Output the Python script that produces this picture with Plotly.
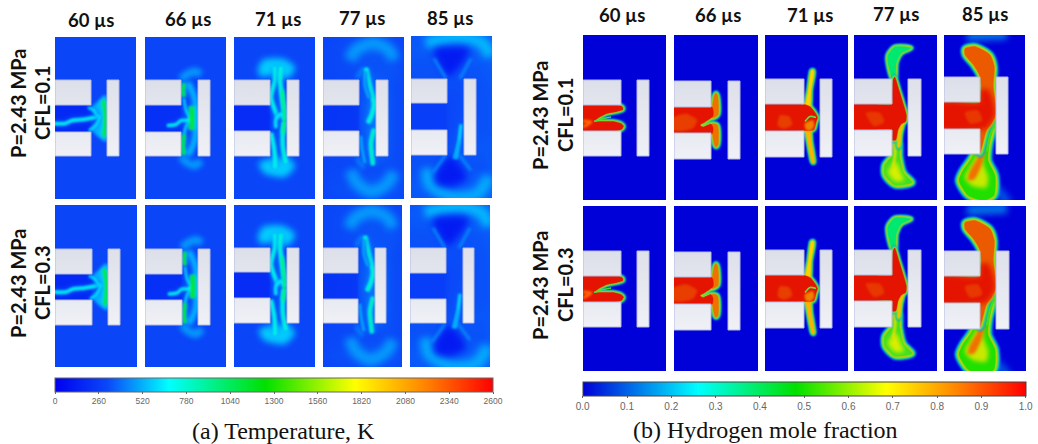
import plotly.graph_objects as go
from plotly.colors import sample_colorscale

W, H = 1038, 444
TIMES = ["60 µs", "66 µs", "71 µs", "77 µs", "85 µs"]
T_TICKS = [0, 260, 520, 780, 1040, 1300, 1560, 1820, 2080, 2340, 2600]
H_TICKS = [0.0, 0.1, 0.2, 0.3, 0.4, 0.5, 0.6, 0.7, 0.8, 0.9, 1.0]
H_TICKTEXT = ["0.0", "0.1", "0.2", "0.3", "0.4", "0.5", "0.6", "0.7", "0.8", "0.9", "1.0"]

# panel geometry in the picture: x0, x1, y0, y1, block end, upper0, upper1, lower0, lower1, right0, right1
T_TOP = [(55,136,37,199,91,80,105,132,156,107,119),(145,226,37,199,181,80,105,132,156,198,210),
         (234,315,37,199,270,80,105,131,156,287,299),(323,404,37,199,359,80,105,131,156,376,388),
         (411,492,36,198,447,79,103,130,155,464,476)]
T_BOT = [(55,137,205,367,92,249,274,300,325,108,120),(145,226,205,367,182,249,274,300,325,198,210),
         (234,315,205,367,270,248,272,298,323,287,299),(323,402,205,367,358,248,273,299,323,375,386),
         (410,490,205,367,446,248,273,299,323,463,474)]
H_TOP = [(583,666,35,200,621,80,105,131,156,637,649),(674,758,35,200,711,81,107,133,159,728,740),
         (765,848,35,200,804,79,104,131,157,820,832),(854,937,35,200,892,79,104,130,156,908,921),
         (944,1025,35,200,980,77,102,129,154,996,1008)]
H_BOT = [(583,666,206,371,621,251,276,302,327,637,649),(674,758,206,371,711,252,277,304,330,728,740),
         (765,848,206,371,804,250,275,302,328,820,832),(854,937,206,371,892,250,275,301,327,908,921),
         (944,1026,206,371,980,251,276,303,329,996,1009)]

# coarse temperature field, K
GRID_X = [-45, -25, -5, 15, 35, 55]
GRID_Y = [-90, -70, -50, -30, -10, 10, 30, 50, 70, 90]
T_FIELD_77 = [[300,300,310,310,310,300],[300,310,330,340,320,300],[300,310,320,330,330,300],
              [300,300,310,360,320,300],[250,240,300,400,320,300],[250,250,300,400,320,300],
              [300,300,320,380,320,300],[300,310,310,320,320,300],[300,320,330,340,330,300],[300,300,310,310,310,300]]
T_FIELD_85 = [[330,340,350,370,360,340],[340,350,340,350,370,370],[330,330,330,330,340,360],
              [320,330,320,320,330,350],[310,290,300,320,330,340],[310,290,300,330,330,340],
              [320,330,320,340,340,350],[330,330,330,330,330,360],[340,350,340,350,370,370],[330,340,350,370,360,340]]

# temperature structures, local coordinates, K per path
T60_STEM = [(-38,5),(-26,5),(-19,2),(-8,1),(-2,0),(9,-2)]
T60_UP = [(-3,-11),(3,-8),(6,-3),(9,-2)]
T60_LOW = [(-2,12),(4,8),(7,3),(9,-2)]
T60_FAN = [(0,-10),(6,-16),(13,-23),(16,-22),(16,22),(14,23),(6,17),(0,10),(6,4),(9,0),(6,-4)]
T60_CORE = [(12,-18),(14,-8),(14.5,3),(13,18)]
T66_ARC_U = [(0,-39),(6,-44),(14,-47),(20,-44)]
T66_ARC_L = [(0,38),(6,44),(14,47),(20,42)]
T66_WALL_U = [(3,-35),(2,-28),(3,-22)]
T66_WALL_L = [(3,36),(2,28),(3,16)]
T66_SIDE = [(7,-36),(13,-22),(15,-8),(15,8),(13,24),(7,37)]
T66_INNER = [(3,-20),(5,-8),(9,0),(5,8),(3,16)]
T66_CORE = [(10.5,-12),(11,0),(10.5,11)]
T66_STEM = [(-14,7),(-5,6),(0,2),(6,2),(11,0)]
T71_HALO_U = [(-12,-48),(-7,-58),(13,-59),(25,-51),(20,-41),(10,-40),(0,-43),(-9,-41)]
T71_HALO_L = [(-11,45),(-6,55),(15,59),(25,48),(18,40),(0,41)]
T71_A1 = [(5,-51),(5,-38),(1,-21),(6,-5),(8,0)]
T71_A2 = [(11,-51),(10,-38),(12,-22),(14,-6),(14,2)]
T71_A3 = [(1,15),(4,30),(5,40),(5,50)]
T71_A4 = [(14,4),(13,12),(13,29),(16,45)]
T71_CORE = [(12,-28),(14,-8),(14.5,3),(13,16)]
T71_MID = [(6,10),(6,1),(11,-4),(14,0)]
T77_ARC_U = [(-9,-58),(-3,-68),(14,-75),(30,-68),(35,-58)]
T77_ARC_L = [(-8,52),(-3,64),(12,74),(28,66),(35,54)]
T77_A1 = [(7,-50),(11,-31),(15,-14),(13,-4),(9,5)]
T77_A2 = [(6,-46),(6,-32),(10,-20)]
T77_A3 = [(15,11),(12,25),(13,39),(14,47)]
T77_A4 = [(2,18),(3,30),(6,45)]
T77_V1 = [(-2,-40),(5,-50)]
T77_V2 = [(-2,40),(5,50)]
T85_ARC_U = [(-21,-73),(-11,-76),(16,-79),(36,-73),(43,-60)]
T85_ARC_L = [(-20,52),(-17,68),(5,80),(30,78),(42,60)]
T85_DARK_U = [(-13,-67),(22,-68),(20,-60),(8,-45),(2,-40),(-5,-48)]
T85_DARK_L = [(2,40),(-12,60),(-10,68),(5,70),(20,62),(10,45)]
T85_L1 = [(-13,-58),(-1,-38)]
T85_L2 = [(24,-58),(13,-38)]
T85_L3 = [(-14,56),(-1,38)]
T85_L4 = [(24,54),(12,38)]
T85_ARM = [(14,8),(12,25),(9,42)]
T85_ARM2 = [(12,25),(7,42)]

# hydrogen structures, local coordinates
H60_BODY = [(-40,-12.7),(-2,-12.7),(1.5,-11),(2,-8.5),(-4,-6.5),(-14,-4.5),(-22,-0.5),(-27,3.5),(-18,3.5),(-8,3.5),(0,5.5),(2.5,8),(1,11),(-4,12.7),(-40,12.7)]
H60_GAP = [(-27,3.5),(-20,1),(-10,-1)]
H60_SP = [(-38,3),(-30,4),(-38,9)]
H66_BODY = [(-40,-13),(1,-13),(2,-4),(-6,2),(-11,5),(-8,7),(0,4),(2,8),(1,14),(-40,13)]
H66_AU = [(1.5,-14),(3.5,-25),(5,-27),(6.5,-25),(7,-5),(1,-2)]
H66_AL = [(1,4),(6.5,5),(7,25),(5,27),(3.5,25),(1.5,14)]
H66_P1 = [(-38,-2),(-25,-6),(-14,0),(-18,8),(-30,11),(-38,10)]
H71_BODY = [(-45,-13),(0,-13),(6,-11),(11,-5),(13.5,0),(12,5),(10,12),(6,13),(0,13),(-45,13)]
H71_AU = [(2,-10),(4.7,-28),(6.5,-42),(7.5,-47),(9.5,-47),(9.5,-43),(6.8,-28),(5.5,-10)]
H71_AL = [(2,10),(4.5,26),(6.5,37),(8.5,45),(10,45),(9,36),(7,24),(5.5,10)]
H71_LINE = [(1,4),(6,-1),(12,0)]
H71_P1 = [(-24,-2),(-15,-1),(-12,7),(-20,11),(-26,8)]
H71_P2 = [(1,6),(9,3),(10,9),(6,13),(2,12)]
H77_BODY = [(-47,-13),(0,-13),(0,-21),(1,-37),(2.7,-40),(7,-27),(11,-14),(14.3,-2),(13.7,4.5),(9.3,7),(6,13),(3.7,23),(0,23),(0,13),(-47,13)]
H77_LOW = [(2.7,26),(-0.7,39.5),(-7.3,48),(-7.3,58),(2.7,68),(20.3,65.5),(11.7,56),(7.7,39.5),(7,26)]
H77_LOWC = [(-1,50),(-4,55),(3,64),(12,63),(9,57),(4,45)]
H77_ARMC = [(3,24),(3,38),(1,50)]
H77_TOP = [(1,-37),(-4,-54),(-4,-62),(2.7,-70),(19.3,-69),(9.3,-64),(4.3,-54),(3.3,-39)]
H77_RARM = [(9,7),(11.5,5),(9,16),(7.5,29),(6.5,30),(7,16)]
H77_P1 = [(-26,-4),(-12,-4),(-8,5),(-18,9)]
H85_BODY = [(-40,-13),(0,-13),(0,-39),(-6.7,-50.7),(-15,-60.7),(-15,-67),(-5,-69),(10,-60.7),(14.3,-49),(13.3,-29),(16,-2),(11.7,7.7),(6.7,14.3),(0,37.7),(-2,13),(-40,13)]
H85_LOW = [(13.3,7),(9,30),(8,45),(15,60),(14,80),(4,85),(-12,80),(-21,65),(-17,55),(-8,42),(-2,25),(0,12)]
H85_LOWY = [(6,16),(3,35),(3,48),(8,62),(6,72),(-8,70),(-15,62),(-9,50),(0,35)]
H85_LOWO = [(5,16),(0,38),(-10,56),(-12,64),(-6,64),(2,48),(5,30)]
H85_RED = [(-40,-13),(0,-13),(0,-25),(8,-26),(13,-14),(15,-2),(11,7),(6,13),(-40,13)]
H85_SLIT = [(15.5,8),(10,20),(7,36)]
H85_HAZE1 = [(-13,-79),(5,-80),(27,-81)]
H85_HAZE2 = [(10,72),(20,78),(28,88)]
H85_P1 = [(-15,-3),(-2,-5),(2,5),(-10,8)]

T_SCALE = [[0,"#0000f0"],[0.12,"#0a48f8"],[0.26,"#00ffff"],[0.48,"#00e000"],[0.685,"#ffff00"],[0.85,"#ff8000"],[1,"#ff0000"]]
H_SCALE = [[0,"#0000d8"],[0.26,"#00ffff"],[0.48,"#00e000"],[0.685,"#ffff00"],[0.85,"#ff8000"],[1,"#ff0000"]]
H_RED, H_ORG = "#e41400", "#ec5a00"


def tcol(v):
    return sample_colorscale(T_SCALE, [v / 2600])[0]


fig = go.Figure()
layout = {}
axn = [0]


def add_axis(g):
    axn[0] += 1
    n = axn[0]
    x0, x1, y0, y1, be, u0, u1, l0, l1, r0, r1 = g
    c = (u1 + l0) / 2
    s = "" if n == 1 else str(n)
    layout["xaxis" + s] = dict(domain=[x0 / W, x1 / W], range=[x0 - be, x1 - be], visible=False, fixedrange=True, anchor="y" + s)
    layout["yaxis" + s] = dict(domain=[1 - y1 / H, 1 - y0 / H], range=[y1 - c, y0 - c], visible=False, fixedrange=True, anchor="x" + s)
    return ("x" + s, "y" + s)


def line(ax, path, color, w, op=1.0, blur=1.1):
    fig.add_trace(go.Scatter(x=[p[0] for p in path], y=[p[1] for p in path], mode="lines", xaxis=ax[0], yaxis=ax[1],
                             line=dict(color=color, width=w, shape="spline", smoothing=0.8), meta=dict(blur=blur),
                             opacity=op, hoverinfo="skip", showlegend=False))


def poly(ax, path, color, op=1.0, smooth=True, blur=1.1):
    pts = list(path) + [path[0]]
    fig.add_trace(go.Scatter(x=[p[0] for p in pts], y=[p[1] for p in pts], mode="lines", fill="toself", fillcolor=color, meta=dict(blur=blur),
                             xaxis=ax[0], yaxis=ax[1], line=dict(color=color, width=0.5, shape="spline" if smooth else "linear", smoothing=0.6),
                             opacity=op, hoverinfo="skip", showlegend=False))


def soft(ax, path, v, w, blur=1.3):
    line(ax, path, tcol(max(v * 0.6, 340)), w * 2.6, 0.45, blur + 0.8)
    line(ax, path, tcol(v * 0.8), w * 1.6, 0.65, blur)
    line(ax, path, tcol(v), w, 0.9, blur)


BANDS = (("#0070f0", 7.5, 0.6), ("#00d8e8", 5.6, 1), ("#00e060", 4.0, 1), ("#b0ee00", 2.6, 1), ("#ffb000", 1.3, 1))


def contour(ax, items):
    """items: (path, fill, k); every band of every path goes under every fill, so joined parts merge."""
    for c, w, op in BANDS:
        for path, fill, k in items:
            line(ax, list(path) + [path[0]], c, w * k, op, 0.8)
    for path, fill, k in items:
        poly(ax, path, fill, blur=0.7)


def solids(ax, g):
    x0, x1, y0, y1, be, u0, u1, l0, l1, r0, r1 = g
    c = (u1 + l0) / 2
    parts = [((x0 - be, 0), (u0 - c, u1 - c), "#dcdfe9", "#e3e5ee"),
             ((x0 - be, 0), (l0 - c, l1 - c), "#e8eaf2", "#f0f1f6"),
             ((r0 - be, r1 - be), (u0 - c, l1 - c), "#dee0ea", "#f0f1f6")]
    for (a, b), (t, d), c1, c2 in parts:
        fig.add_trace(go.Scatter(x=[a, b, b, a, a], y=[t, t, d, d, t], mode="lines", fill="toself", xaxis=ax[0], yaxis=ax[1], meta=dict(blur=0.4),
                                 fillgradient=dict(type="vertical", colorscale=[[0, c2], [1, c1]]),
                                 line=dict(color="#b4b9e2", width=1), hoverinfo="skip", showlegend=False))


def base(ax, z, coloraxis):
    fig.add_trace(go.Heatmap(x=GRID_X, y=GRID_Y, z=z, coloraxis=coloraxis, zsmooth="best", xaxis=ax[0], yaxis=ax[1], hoverinfo="skip"))


def flat(v):
    return [[v] * len(GRID_X) for _ in GRID_Y]


CH = [(-60, -14), (0, -14), (0, 14), (-60, 14)]


def t_panel(i, g):
    ax = add_axis(g)
    base(ax, [flat(300), flat(300), flat(300), T_FIELD_77, T_FIELD_85][i], "coloraxis")
    if i == 0:
        poly(ax, CH, tcol(170), 0.9, False)
        poly(ax, T60_FAN, tcol(560), 0.85, blur=1.6)
        soft(ax, T60_STEM, 720, 2.4)
        soft(ax, T60_UP, 650, 1.8)
        soft(ax, T60_LOW, 650, 1.8)
        soft(ax, T60_CORE, 1150, 2.6)
    elif i == 1:
        poly(ax, CH, tcol(200), 0.9, False)
        line(ax, T66_ARC_U, tcol(500), 8, 0.85, 2.5)
        line(ax, T66_ARC_L, tcol(500), 8, 0.85, 2.5)
        line(ax, T66_SIDE, tcol(580), 6, 0.85, 2)
        soft(ax, T66_INNER, 620, 1.6)
        soft(ax, T66_STEM, 720, 2)
        soft(ax, T66_WALL_U, 1150, 2.4)
        soft(ax, T66_WALL_L, 1150, 2.4)
        soft(ax, T66_CORE, 1150, 3.6)
    elif i == 2:
        poly(ax, CH, tcol(180), 0.9, False)
        poly(ax, T71_HALO_U, tcol(620), 0.85, blur=3)
        poly(ax, T71_HALO_L, tcol(620), 0.85, blur=3)
        soft(ax, T71_A1, 740, 3)
        soft(ax, T71_A2, 780, 3)
        soft(ax, T71_A3, 740, 3)
        soft(ax, T71_A4, 780, 3)
        soft(ax, T71_MID, 660, 2.4)
        soft(ax, T71_CORE, 1050, 1.8)
    elif i == 3:
        poly(ax, CH, tcol(230), 0.8, False)
        line(ax, T77_ARC_U, tcol(500), 12, 0.85, 3.5)
        line(ax, T77_ARC_L, tcol(500), 12, 0.85, 3.5)
        line(ax, T77_V1, tcol(470), 4, 0.8, 2)
        line(ax, T77_V2, tcol(470), 4, 0.8, 2)
        soft(ax, T77_A1, 780, 3.2)
        soft(ax, T77_A2, 520, 2.2)
        soft(ax, T77_A3, 850, 2.6)
        soft(ax, T77_A4, 520, 2.2)
    else:
        poly(ax, CH, tcol(260), 0.7, False)
        line(ax, T85_ARC_U, tcol(560), 12, 0.85, 3.5)
        line(ax, T85_ARC_L, tcol(530), 12, 0.85, 3.5)
        poly(ax, T85_DARK_U, tcol(90), 0.9, blur=3.5)
        poly(ax, T85_DARK_L, tcol(90), 0.9, blur=3.5)
        line(ax, T85_L1, tcol(470), 2.5, 0.9, 1.5)
        line(ax, T85_L2, tcol(470), 2.5, 0.9, 1.5)
        line(ax, T85_L3, tcol(470), 2.5, 0.9, 1.5)
        line(ax, T85_L4, tcol(470), 2.5, 0.9, 1.5)
        soft(ax, T85_ARM, 640, 2.2)
        soft(ax, T85_ARM2, 560, 1.5)
    solids(ax, g)


def h_panel(i, g):
    ax = add_axis(g)
    base(ax, flat(0.0), "coloraxis2")
    if i == 0:
        contour(ax, [(H60_BODY, H_RED, 0.75)])
        line(ax, H60_GAP, "#40e040", 1.5, 1, 0.6)
        line(ax, H60_SP, "#ff7000", 3, 0.9)
    elif i == 1:
        contour(ax, [(H66_AU, "#f07000", 0.75), (H66_AL, "#f07000", 0.75), (H66_BODY, H_RED, 0.75)])
        poly(ax, H66_P1, H_ORG, 0.6)
    elif i == 2:
        contour(ax, [(H71_AU, "#ffd000", 0.7), (H71_AL, "#ffb000", 0.7), (H71_BODY, H_RED, 0.7)])
        poly(ax, H71_P1, H_ORG, 0.6)
        poly(ax, H71_P2, "#f08000")
        line(ax, H71_LINE, "#60e040", 1.6, 1, 0.6)
    elif i == 3:
        contour(ax, [(H77_TOP, "#00e870", 0.8)])
        contour(ax, [(H77_LOW, "#40e020", 1.1)])
        poly(ax, H77_LOWC, "#d8ee00", blur=2)
        line(ax, H77_ARMC, "#f0e000", 2.4)
        contour(ax, [(H77_RARM, "#f0c000", 0.7), (H77_BODY, H_RED, 0.7)])
        poly(ax, H77_P1, H_ORG, 0.5)
    else:
        line(ax, H85_HAZE1, "#00c0f0", 10, 0.6, 3)
        line(ax, H85_HAZE2, "#00a0f0", 10, 0.5, 3)
        contour(ax, [(H85_LOW, "#20e000", 1.3)])
        poly(ax, H85_LOWY, "#c8e800", blur=2)
        poly(ax, H85_LOWO, "#f07000", blur=1.5)
        contour(ax, [(H85_BODY, "#ec5a00", 1.1)])
        poly(ax, H85_RED, H_RED, blur=2.5)
        poly(ax, H85_P1, H_ORG, 0.5)
        line(ax, H85_SLIT, "#40e020", 2, 1, 0.7)
    solids(ax, g)


for row in (T_TOP, T_BOT):
    for i, g in enumerate(row):
        t_panel(i, g)
for row in (H_TOP, H_BOT):
    for i, g in enumerate(row):
        h_panel(i, g)


def text(s, x, y, size, family="Lato", color="#111", bold=True, angle=0):
    return dict(text="<b>%s</b>" % s if bold else s, x=x / W, y=1 - y / H, xref="paper", yref="paper", showarrow=False,
                xanchor="center", yanchor="middle", textangle=angle, font=dict(family=family, size=size, color=color))


ann = []
for s, x, y in zip(TIMES, [91, 188, 278, 362, 450], [20, 19, 19, 18, 18]):
    ann.append(text(s, x, y, 18.5))
for s, x, y in zip(TIMES, [622, 718, 810, 896, 985], [15, 15, 15, 14, 14]):
    ann.append(text(s, x, y, 18.5))
for s, x, y in [("P=2.43 MPa", 18, 103), ("CFL=0.1", 42, 103), ("P=2.43 MPa", 18, 283), ("CFL=0.3", 42, 283),
                ("P=2.43 MPa", 540, 115), ("CFL=0.1", 565, 115), ("P=2.43 MPa", 540, 285), ("CFL=0.3", 565, 285)]:
    ann.append(text(s, x, y, 20, angle=-90))
ann.append(text("(a) Temperature, K", 283, 431, 24, family="Liberation Serif", color="#111", bold=False))
ann.append(text("(b) Hydrogen mole fraction", 765, 430, 24, family="Liberation Serif", color="#111", bold=False))

layout.update(
    width=W, height=H, margin=dict(l=0, r=0, t=0, b=0), paper_bgcolor="white", plot_bgcolor="white", showlegend=False, annotations=ann,
    coloraxis=dict(cmin=0, cmax=2600, colorscale=T_SCALE,
                   colorbar=dict(orientation="h", x=55 / W, xanchor="left", y=1 - 378 / H, yanchor="top", len=437.5 / W, lenmode="fraction",
                                 thickness=13.5, thicknessmode="pixels", xpad=0, ypad=0, outlinewidth=1, outlinecolor="#666",
                                 tickmode="array", tickvals=T_TICKS, ticktext=[str(t) for t in T_TICKS], ticks="outside", ticklen=2,
                                 tickcolor="#666", tickfont=dict(family="Liberation Sans", size=8.5, color="#666"))),
    coloraxis2=dict(cmin=0, cmax=1, colorscale=H_SCALE,
                    colorbar=dict(orientation="h", x=582.7 / W, xanchor="left", y=1 - 381.7 / H, yanchor="top", len=443.3 / W, lenmode="fraction",
                                  thickness=13.5, thicknessmode="pixels", xpad=0, ypad=0, outlinewidth=1, outlinecolor="#444",
                                  tickmode="array", tickvals=H_TICKS, ticktext=H_TICKTEXT, ticks="outside", ticklen=2,
                                  tickcolor="#666", tickfont=dict(family="Liberation Sans", size=10, color="#666"))),
)
fig.update_layout(**layout)

POST = """
document.body.style.margin='0';document.body.style.overflow='hidden';
document.querySelectorAll('.scatterlayer .trace').forEach(function(e){
  var d=e.__data__&&e.__data__[0]&&e.__data__[0].trace;
  var b=(d&&d.meta&&d.meta.blur)||1;
  e.style.filter='blur('+b+'px)';
});
"""
fig.write_html("out.html", post_script=POST, config=dict(displayModeBar=False))
